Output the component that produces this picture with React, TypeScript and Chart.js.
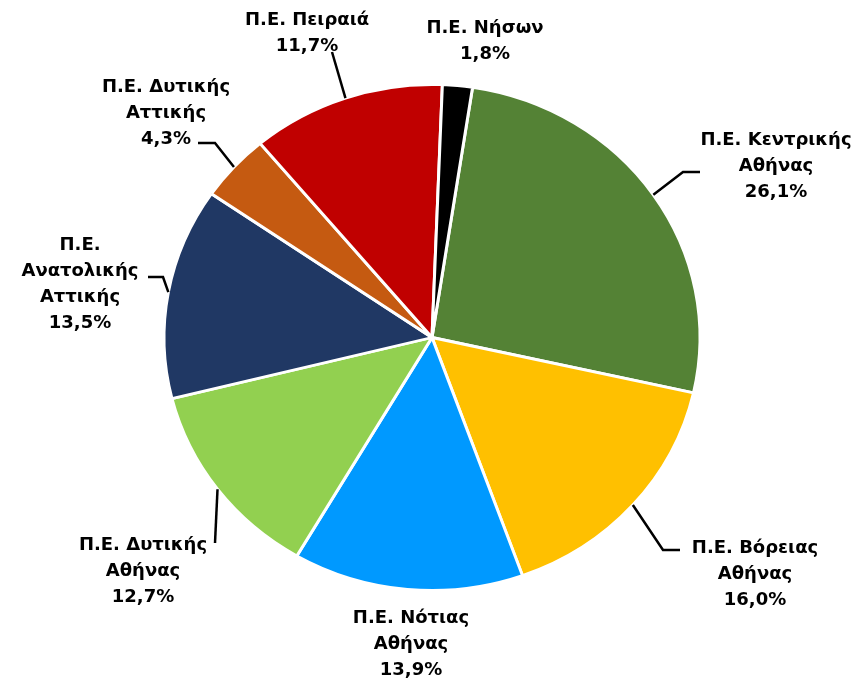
import React, { useEffect, useRef } from "react";
import { Chart, registerables } from "chart.js";

Chart.register(...registerables);

const categories = [
  "Π.Ε. Κεντρικής Αθήνας",
  "Π.Ε. Βόρειας Αθήνας",
  "Π.Ε. Νότιας Αθήνας",
  "Π.Ε. Δυτικής Αθήνας",
  "Π.Ε. Ανατολικής Αττικής",
  "Π.Ε. Δυτικής Αττικής",
  "Π.Ε. Πειραιά",
  "Π.Ε. Νήσων",
];
const labelLines = [
  ["Π.Ε. Κεντρικής", "Αθήνας"],
  ["Π.Ε. Βόρειας", "Αθήνας"],
  ["Π.Ε. Νότιας", "Αθήνας"],
  ["Π.Ε. Δυτικής", "Αθήνας"],
  ["Π.Ε.", "Ανατολικής", "Αττικής"],
  ["Π.Ε. Δυτικής", "Αττικής"],
  ["Π.Ε. Πειραιά"],
  ["Π.Ε. Νήσων"],
];
const shares = [26.1, 16.0, 13.9, 12.7, 13.5, 4.3, 11.7, 1.8];
const colors = ["#548235", "#FFC000", "#0099FF", "#92D050", "#203864", "#C55A11", "#C00000", "#000000"];

// layout (offsets from pie centre, px)
const labelOffsets = [
  [344, -171.5],
  [323, 236.5],
  [-21, 306.5],
  [-289, 233.5],
  [-352, -53.5],
  [-266, -224.5],
  [-125, -304.5],
  [53, -296.5],
];
const leaderPoints: (number[][] | null)[] = [
  [[251, -165.5], [268, -165.5]],
  [[231, 212.5], [248, 212.5]],
  null,
  [[-217, 205.5]],
  [[-269, -60.5], [-284, -60.5]],
  [[-217, -194.5], [-234, -194.5]],
  [[-100, -285.5]],
  null,
];
const KY = 0.944;
const FONT = "bold 18px 'DejaVu Sans'";
const LINE_H = 26;

const ellipsePlugin = {
  id: "ellipse",
  beforeDatasetsDraw(chart: any) {
    const a = chart.getDatasetMeta(0).data[0];
    const ctx = chart.ctx;
    ctx.save();
    ctx.translate(a.x, a.y);
    ctx.scale(1, KY);
    ctx.translate(-a.x, -a.y);
  },
  afterDatasetsDraw(chart: any) {
    chart.ctx.restore();
  },
};

const labelPlugin = {
  id: "pieLabels",
  afterDraw(chart: any) {
    const ctx = chart.ctx;
    const arcs = chart.getDatasetMeta(0).data;
    ctx.save();
    arcs.forEach((arc: any, i: number) => {
      const cx = arc.x;
      const cy = arc.y;
      const R = arc.outerRadius;
      const mid = (arc.startAngle + arc.endAngle) / 2;
      const ex = cx + R * Math.cos(mid);
      const ey = cy + R * KY * Math.sin(mid);
      const lp = leaderPoints[i];
      if (lp) {
        ctx.beginPath();
        ctx.strokeStyle = "#000";
        ctx.lineWidth = 2.5;
        ctx.moveTo(ex, ey);
        lp.forEach((p) => ctx.lineTo(cx + p[0], cy + p[1]));
        ctx.stroke();
      }
      const lines = [...labelLines[i], shares[i].toFixed(1).replace(".", ",") + "%"];
      const [ox, oy] = labelOffsets[i];
      const x = cx + ox;
      const y0 = cy + oy - ((lines.length - 1) * LINE_H) / 2;
      ctx.font = FONT;
      ctx.fillStyle = "#000";
      ctx.textAlign = "center";
      ctx.textBaseline = "middle";
      lines.forEach((t, k) => ctx.fillText(t, x, y0 + k * LINE_H));
    });
    ctx.restore();
  },
};

export default function App() {
  const ref = useRef<HTMLCanvasElement>(null);
  useEffect(() => {
    if (!ref.current) return;
    const chart = new Chart(ref.current, {
      type: "pie",
      data: {
        labels: categories,
        datasets: [
          {
            data: shares,
            backgroundColor: colors,
            borderColor: "#ffffff",
            borderWidth: 3,
          },
        ],
      },
      options: {
        animation: false,
        responsive: false,
        devicePixelRatio: 1,
        rotation: 8.7,
        radius: 268,
        layout: { padding: { left: 164, right: 157, top: 70, bottom: 76 } },
        plugins: {
          legend: { display: false },
          tooltip: { enabled: false },
        },
      },
      plugins: [ellipsePlugin, labelPlugin],
    });
    return () => chart.destroy();
  }, []);
  return (
    <div style={{ position: "absolute", left: 0, top: 0, width: 857, height: 681, background: "#fff" }}>
      <canvas ref={ref} width={857} height={681} />
    </div>
  );
}
